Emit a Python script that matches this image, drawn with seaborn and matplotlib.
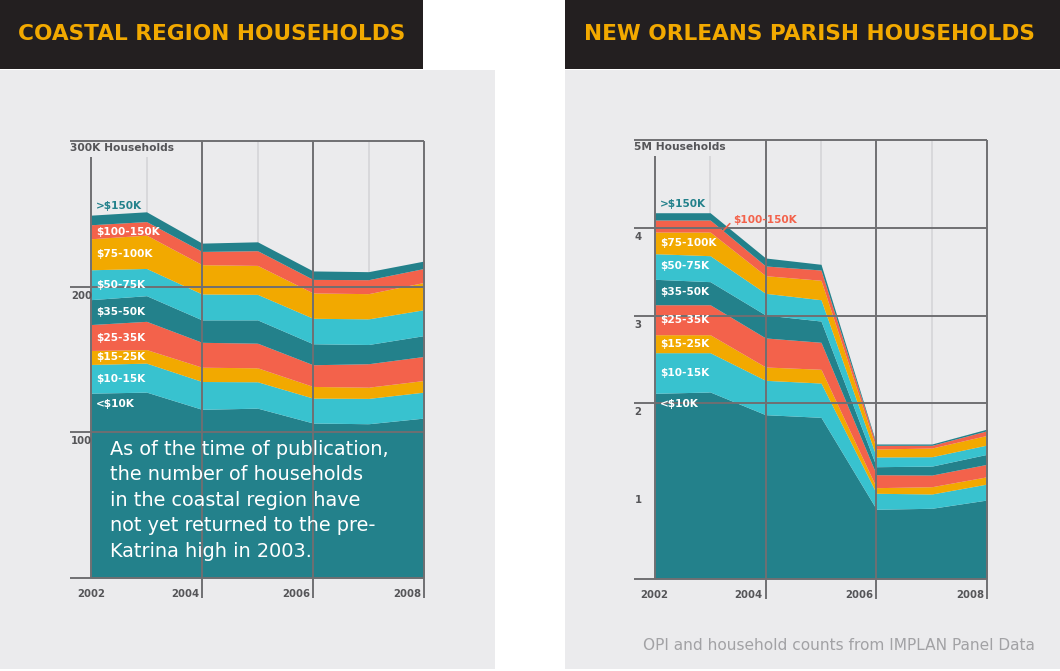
import numpy as np
import pandas as pd
import seaborn as sns
import matplotlib.pyplot as plt
from matplotlib.patches import Rectangle

sns.set_theme(style="white")
plt.rcParams['font.family'] = ['DejaVu Sans']

W, H = 1060, 671

TEAL = "#23818b"
CYAN = "#38c2cf"
AMBER = "#f2a900"
RED = "#f3624b"
PANEL = "#ebebed"
DARK_LINE = "#6f6f72"
LIGHT_LINE = "#d6d6da"
TICK_TEXT = "#555558"

years = [2002, 2003, 2004, 2005, 2006, 2007, 2008]
brackets = ["<$10K", "$10-15K", "$15-25K", "$25-35K", "$35-50K",
            "$50-75K", "$75-100K", "$100-150K", ">$150K"]
band_colors = [TEAL, CYAN, AMBER, RED, TEAL, CYAN, AMBER, RED, TEAL]

# Coastal region, thousands of households per income bracket
coastal_lt10 = [126.9, 127.6, 115.8, 116.6, 106.4, 105.9, 109.8]
coastal_10_15 = [19.7, 19.9, 19.1, 18.1, 17.1, 17.4, 17.8]
coastal_15_25 = [9.6, 9.3, 9.8, 9.6, 8.0, 7.7, 8.0]
coastal_25_35 = [17.8, 19.4, 17.1, 16.9, 14.9, 16.1, 16.5]
coastal_35_50 = [17.1, 17.6, 15.4, 16.0, 14.4, 13.2, 14.3]
coastal_50_75 = [20.5, 18.7, 17.8, 17.5, 17.5, 17.6, 17.8]
coastal_75_100 = [21.3, 22.9, 20.1, 19.9, 17.4, 17.3, 18.7]
coastal_100_150 = [9.6, 9.3, 9.1, 10.1, 9.3, 9.6, 9.6]
coastal_gt150 = [6.6, 6.7, 5.7, 6.1, 5.8, 5.5, 5.1]

# New Orleans parish, millions of households per income bracket
parish_lt10 = [2.114, 2.129, 1.870, 1.840, 0.792, 0.803, 0.898]
parish_10_15 = [0.463, 0.448, 0.392, 0.391, 0.182, 0.163, 0.182]
parish_15_25 = [0.205, 0.205, 0.152, 0.157, 0.064, 0.083, 0.083]
parish_25_35 = [0.342, 0.342, 0.331, 0.308, 0.148, 0.133, 0.142]
parish_35_50 = [0.290, 0.263, 0.262, 0.242, 0.091, 0.102, 0.114]
parish_50_75 = [0.292, 0.296, 0.247, 0.243, 0.111, 0.107, 0.106]
parish_75_100 = [0.247, 0.270, 0.201, 0.222, 0.091, 0.099, 0.110]
parish_100_150 = [0.137, 0.137, 0.111, 0.117, 0.042, 0.031, 0.053]
parish_gt150 = [0.083, 0.083, 0.091, 0.065, 0.015, 0.015, 0.019]

coastal = pd.DataFrame(dict(zip(brackets, [
    coastal_lt10, coastal_10_15, coastal_15_25, coastal_25_35, coastal_35_50,
    coastal_50_75, coastal_75_100, coastal_100_150, coastal_gt150])), index=years)
parish = pd.DataFrame(dict(zip(brackets, [
    parish_lt10, parish_10_15, parish_15_25, parish_25_35, parish_35_50,
    parish_50_75, parish_75_100, parish_100_150, parish_gt150])), index=years)

coastal_grid = [0, 100, 200, 300]
coastal_ticks = [100, 200]
parish_grid = [0, 2, 3, 4, 5]
parish_ticks = [1, 2, 3, 4]
major_years = [2004, 2006, 2008]
minor_years = [2003, 2005, 2007]


def fx(px):
    return px / W


def fy(py):
    return 1 - py / H


def add_rect(x0, y0, x1, y1, color):
    fig.add_artist(Rectangle((fx(x0), fy(y1)), fx(x1 - x0), (y1 - y0) / H,
                             transform=fig.transFigure, facecolor=color,
                             edgecolor='none', zorder=0))


def draw_panel(ax, df, ymax, grid, ticks, unit_label, callout=None):
    ax.set_xlim(years[0], years[-1])
    ax.set_ylim(0, ymax)
    ax.axis('off')
    ax.patch.set_alpha(0)

    hpx = ax.get_position().height * H
    below = -20 / hpx      # tick extension under the baseline
    gap = 1 - 16 / hpx     # room left for the unit label
    left = -21 / (ax.get_position().width * W)

    ax.stackplot(df.index, *[df[c] for c in brackets], colors=band_colors,
                 linewidth=0, zorder=2)

    xt = ax.get_xaxis_transform()
    yt = ax.get_yaxis_transform()
    ax.vlines(minor_years[0], 0, gap, transform=xt, color=LIGHT_LINE, lw=1.3, zorder=1)
    ax.vlines(minor_years[1:], 0, 1, transform=xt, color=LIGHT_LINE, lw=1.3, zorder=1)
    ax.vlines(years[0], 0, gap, transform=xt, color=DARK_LINE, lw=1.4, zorder=3, clip_on=False)
    ax.vlines(major_years, below, 1, transform=xt, color=DARK_LINE, lw=1.4, zorder=3, clip_on=False)
    ax.hlines(grid, left, 1, transform=yt, color=DARK_LINE, lw=1.4, zorder=3, clip_on=False)

    ax.text(left, 1 - 7 / hpx, unit_label, transform=ax.transAxes, ha='left', va='center',
            fontsize=7.7, fontweight='bold', color=TICK_TEXT, zorder=4)
    for t in ticks:
        ax.annotate(f"{t}", (left, t), xycoords=yt, xytext=(1, -4), textcoords='offset pixels',
                    ha='left', va='top', fontsize=7.3, fontweight='bold', color=TICK_TEXT)

    ax.annotate(str(years[0]), (years[0], 0), xytext=(0, -16), textcoords='offset pixels',
                ha='center', va='center', fontsize=7.3, fontweight='bold', color=TICK_TEXT)
    for y in major_years:
        ax.annotate(str(y), (y, 0), xytext=(-3, -16), textcoords='offset pixels',
                    ha='right', va='center', fontsize=7.3, fontweight='bold', color=TICK_TEXT)

    # bracket labels, placed inside each band at the first year
    cum = df[brackets].cumsum(axis=1)
    first = cum.iloc[0]
    for i, name in enumerate(brackets):
        top = first[name]
        bottom = first[brackets[i - 1]] if i > 0 else 0
        color, dy, y = 'white', 0, (top + bottom) / 2
        if name == "<$10K":
            y, dy = top, -11
        elif name == ">$150K":
            y, dy, color = top, 9, TEAL
        if name == callout:
            mids = (cum[name] + cum[brackets[i - 1]]) / 2
            xa = 2003.18
            ya = np.interp(xa, years, mids)
            ax.annotate(name, (xa, ya), xytext=(13, 14), textcoords='offset pixels',
                        ha='left', va='center', fontsize=7.6, fontweight='bold', color=RED,
                        zorder=5, arrowprops=dict(arrowstyle='-', color=RED, lw=1.2,
                                                  shrinkA=0, shrinkB=0, relpos=(0, 0.5)))
            continue
        ax.annotate(name, (years[0], y), xytext=(5, dy), textcoords='offset pixels',
                    ha='left', va='center', fontsize=7.6, fontweight='bold', color=color,
                    zorder=4)


fig = plt.figure(figsize=(W / 100, H / 100), dpi=100)
fig.patch.set_facecolor('white')

add_rect(0, 70, 495, 669, PANEL)
add_rect(565, 70, 1060, 669, PANEL)
add_rect(0, 0, 423, 69, "#231f20")
add_rect(565, 0, 1060, 69, "#231f20")

fig.text(fx(18), fy(34), "COASTAL REGION HOUSEHOLDS", ha='left', va='center',
         fontsize=15.6, fontweight='bold', color=AMBER)
fig.text(fx(584), fy(34), "NEW ORLEANS PARISH HOUSEHOLDS", ha='left', va='center',
         fontsize=15.6, fontweight='bold', color=AMBER)

ax1 = fig.add_axes([fx(91), fy(578), fx(424 - 91), (578 - 141) / H])
draw_panel(ax1, coastal, 300, coastal_grid, coastal_ticks, "300K Households")

ax1.text(19 / 333, 1 - 299 / 437,
         "As of the time of publication,\nthe number of households\n"
         "in the coastal region have\nnot yet returned to the pre-\nKatrina high in 2003.",
         transform=ax1.transAxes, ha='left', va='top', fontsize=13.9,
         color='white', linespacing=1.43, zorder=5)

ax2 = fig.add_axes([fx(654.7), fy(578.7), fx(987.3 - 654.7), (578.7 - 140.2) / H])
draw_panel(ax2, parish, 5, parish_grid, parish_ticks, "5M Households", callout="$100-150K")

fig.text(fx(643), fy(645), "OPI and household counts from IMPLAN Panel Data",
         ha='left', va='center', fontsize=11.1, color="#a2a2a5")

fig.savefig("out.png", dpi=100, facecolor='white')
